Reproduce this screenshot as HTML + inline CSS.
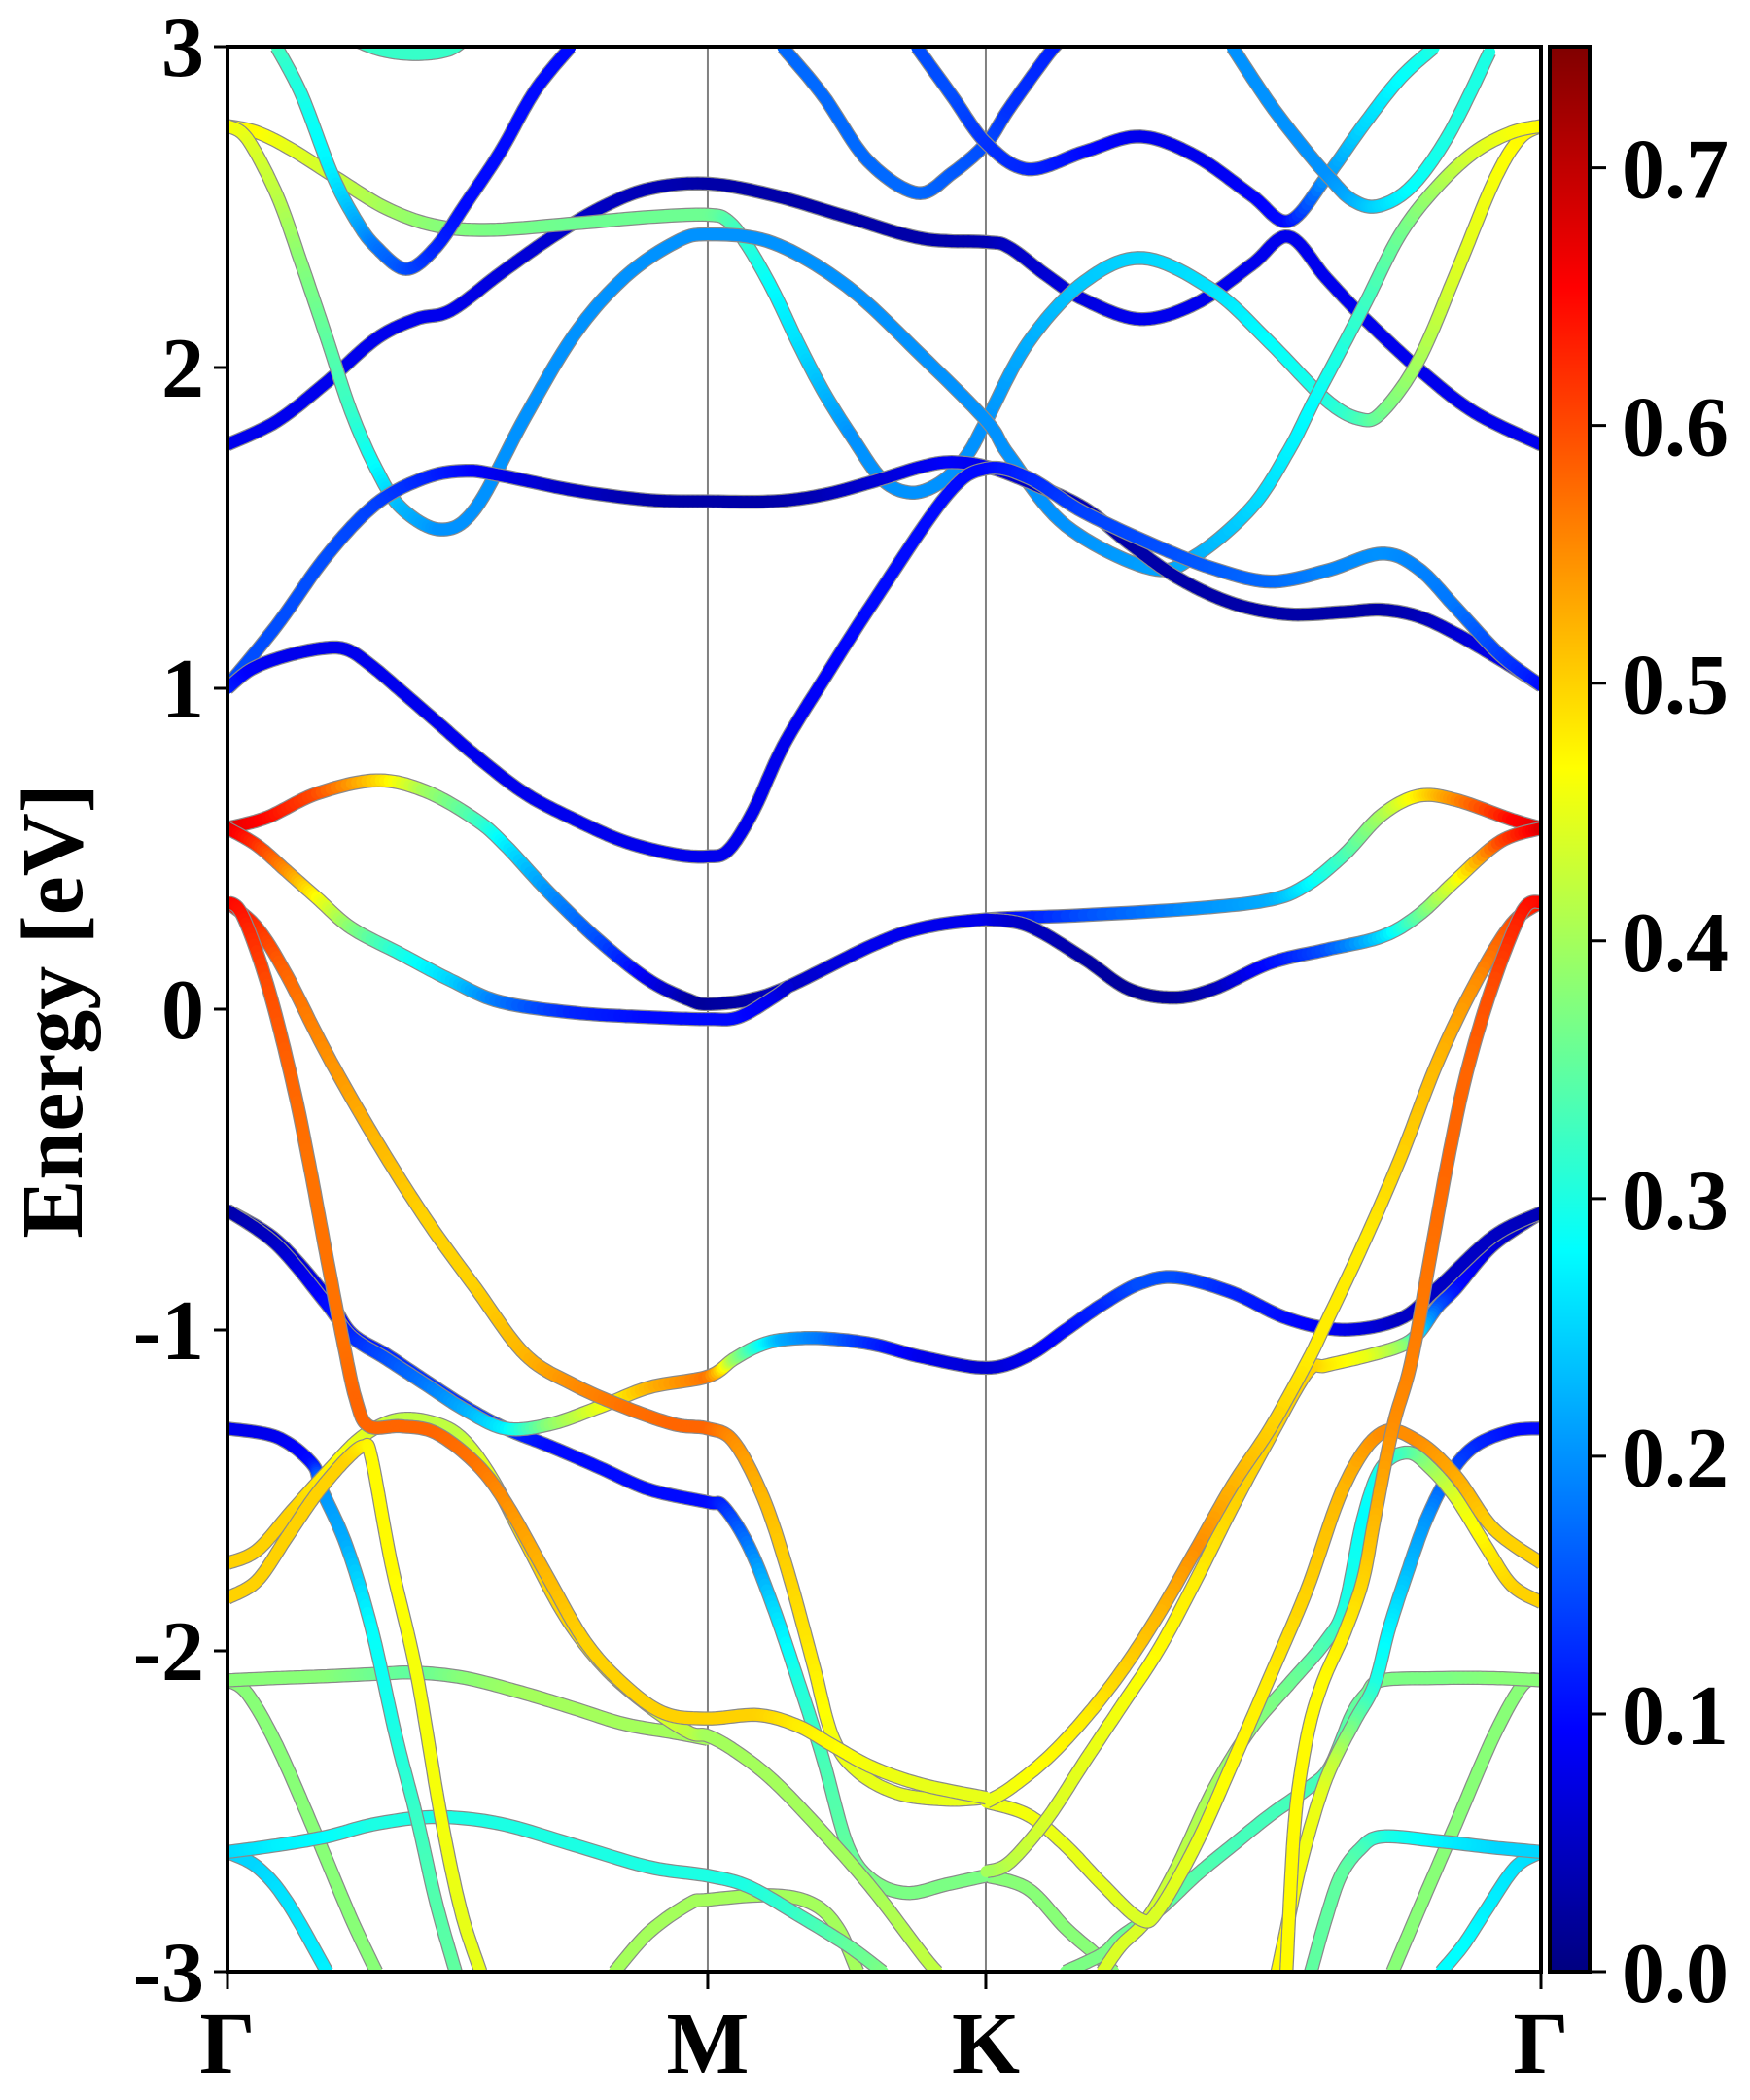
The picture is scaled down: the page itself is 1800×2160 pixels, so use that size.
<!DOCTYPE html>
<html><head><meta charset="utf-8">
<style>
html,body{margin:0;padding:0;background:#fff;}
svg{display:block;}
text{font-family:"Liberation Serif",serif;font-weight:bold;fill:#000;}
</style></head>
<body>
<svg id="chart" width="1800" height="2160" viewBox="0 0 1800 2160" xmlns="http://www.w3.org/2000/svg">
<defs>
<clipPath id="plotclip"><rect x="234" y="48" width="1351" height="1980"/></clipPath>
<linearGradient id="jetgrad" x1="0" y1="1" x2="0" y2="0"></linearGradient>
</defs>
<rect x="234" y="48" width="1351" height="1980" fill="#fff"/>
<g id="vlines"></g>
<g id="bands" clip-path="url(#plotclip)"></g>
<rect x="234" y="48" width="1351" height="1980" fill="none" stroke="#000" stroke-width="4"/>
<g id="axes"></g>
<text transform="translate(84,1040) rotate(-90)" text-anchor="middle" font-size="90">Energy [eV]</text>
<rect id="cbar" x="1594" y="48" width="41" height="1980" fill="url(#jetgrad)" stroke="#000" stroke-width="4"/>
</svg>
<script>
// ---- data ----
const kLabels = ["Γ","M","K","Γ"];
const kPoints = [0, 1, 1.579, 2.735];
const yTicks = [3,2,1,0,-1,-2,-3];
const yTickLabels = ["3","2","1","0","-1","-2","-3"];
const cbTicks = [0.0,0.1,0.2,0.3,0.4,0.5,0.6,0.7];
const cbTickLabels = ["0.0","0.1","0.2","0.3","0.4","0.5","0.6","0.7"];
const cbMax = 0.747;

const bandC1k = [0,.103,.207,.31,.393,.465,.568,.671,.775,.878,1.0,1.136,1.291,1.446,1.581,1.628,1.706,1.783,1.9,2.016,2.132,2.209,2.287,2.364,2.48,2.597,2.736];
const bandC1E = [1.76,1.833,1.955,2.09,2.151,2.178,2.293,2.402,2.496,2.557,2.573,2.537,2.469,2.402,2.391,2.374,2.287,2.212,2.151,2.199,2.32,2.408,2.28,2.158,1.996,1.86,1.759];
const bandC1w = [.08,.08,.08,.08,.08,.08,.07,.06,.05,.04,.03,.03,.03,.03,.04,.05,.06,.07,.08,.08,.08,.08,.08,.08,.08,.08,.08];

const bandC2k = [0,.062,.134,.227,.331,.434,.548,.723,.878,1.0,1.043,1.085,1.136,1.188,1.24,1.302,1.364,1.426,1.488,1.539,1.58,1.667,1.783,1.907,2.054,2.171,2.287,2.357,2.403,2.48,2.558,2.636,2.69,2.736];
const bandC2E = [2.753,2.733,2.679,2.591,2.496,2.442,2.429,2.449,2.469,2.476,2.456,2.375,2.24,2.077,1.928,1.78,1.65,1.61,1.645,1.725,1.834,2.077,2.266,2.341,2.239,2.077,1.9,1.84,1.86,2.022,2.293,2.577,2.713,2.753];
const bandC2w = [.47,.47,.45,.43,.4,.38,.37,.36,.36,.36,.34,.31,.28,.26,.23,.2,.2,.2,.2,.2,.2,.22,.24,.25,.26,.28,.3,.33,.36,.4,.44,.46,.47,.47];

const bandC3k = [0,.041,.103,.155,.207,.258,.31,.362,.444,.517,.62,.723,.826,.93,1.0,1.136,1.291,1.446,1.58,1.628,1.745,1.923,2.016,2.132,2.209,2.264,2.364,2.442,2.519,2.597,2.674,2.736];
const bandC3E = [2.753,2.713,2.537,2.32,2.09,1.86,1.684,1.562,1.495,1.562,1.846,2.104,2.28,2.388,2.415,2.388,2.252,2.036,1.834,1.725,1.508,1.373,1.414,1.563,1.739,1.901,2.185,2.415,2.564,2.672,2.733,2.753];
const bandC3w = [.47,.45,.42,.38,.35,.32,.28,.23,.2,.2,.2,.2,.2,.2,.2,.2,.2,.2,.2,.2,.2,.21,.22,.25,.27,.28,.32,.36,.4,.44,.46,.47];

const bandC4k = [.103,.155,.217,.269,.31,.372,.434,.496,.568,.64,.713];
const bandC4E = [2.997,2.848,2.605,2.456,2.375,2.307,2.375,2.51,2.672,2.862,2.997];
const bandC4w = [.33,.3,.27,.22,.18,.15,.12,.1,.1,.1,.1];

const bandC5k = [.25,.32,.392,.46,.5];
const bandC5E = [3.03,2.99,2.977,2.99,3.03];
const bandC5w = [.32,.32,.32,.32,.32];

const bandT1k = [1.157,1.24,1.333,1.436,1.508,1.58,1.628,1.706,1.74];
const bandT1E = [2.997,2.848,2.645,2.544,2.605,2.699,2.808,2.97,3.03];
const bandT1w = [.17,.17,.17,.17,.16,.15,.13,.12,.11];

const bandT2k = [1.436,1.508,1.58,1.667,1.783,1.9,2.016,2.132,2.209,2.287,2.364,2.442,2.512];
const bandT2E = [2.997,2.848,2.699,2.618,2.672,2.72,2.659,2.537,2.456,2.591,2.753,2.902,2.997];
const bandT2w = [.15,.15,.13,.12,.1,.08,.08,.09,.1,.2,.25,.28,.3];

const bandT3k = [2.093,2.171,2.248,2.295,2.341,2.395,2.465,2.543,2.628];
const bandT3E = [2.997,2.821,2.672,2.591,2.523,2.503,2.564,2.726,2.983];
const bandT3w = [.2,.2,.2,.2,.22,.25,.28,.3,.3];

const bandUpk = [0,.103,.207,.31,.413,.496,.568,.723,.878,1.0,1.136,1.24,1.343,1.446,1.508,1.58,1.667,1.783,1.876,1.977,2.093,2.209,2.326,2.403,2.48,2.558,2.651,2.736];
const bandUpE = [1.008,1.197,1.414,1.576,1.657,1.678,1.664,1.617,1.587,1.583,1.583,1.603,1.644,1.691,1.705,1.691,1.644,1.563,1.454,1.346,1.265,1.231,1.238,1.245,1.224,1.17,1.089,1.008];
const bandUpw = [.15,.15,.15,.14,.12,.1,.08,.05,.03,.03,.03,.04,.06,.08,.09,.08,.05,.04,.03,.03,.03,.03,.03,.03,.04,.06,.08,.06];

const bandD1k = [0,.05,.12,.2,.25,.3,.363,.44,.517,.62,.723,.826,.93,1.0,1.043,1.095,1.157,1.24,1.343,1.498,1.58,1.667,1.783,1.938,2.054,2.171,2.287,2.403,2.48,2.558,2.651,2.736];
const bandD1E = [1.0,1.06,1.1,1.125,1.12,1.07,.99,.89,.79,.672,.591,.523,.483,.476,.496,.618,.82,1.024,1.265,1.603,1.685,1.657,1.549,1.441,1.373,1.333,1.366,1.42,1.373,1.251,1.103,1.008];
const bandD1w = [.12,.09,.08,.08,.08,.08,.08,.08,.08,.08,.08,.08,.08,.08,.08,.08,.08,.09,.1,.1,.1,.12,.14,.15,.16,.17,.19,.2,.19,.18,.14,.1];

const bandF1k = [0,.083,.186,.31,.413,.517,.579,.671,.775,.878,.961,1.0,1.085,1.167,1.343,1.446,1.58,1.783,2.016,2.171,2.248,2.326,2.403,2.48,2.558,2.674,2.736];
const bandF1E = [.564,.598,.672,.713,.679,.591,.51,.361,.212,.09,.029,.016,.029,.07,.199,.253,.28,.293,.314,.341,.388,.483,.605,.665,.652,.591,.564];
const bandF1w = [.68,.65,.6,.5,.4,.33,.27,.2,.15,.08,.03,.02,.03,.05,.08,.08,.08,.15,.2,.22,.27,.33,.4,.48,.55,.65,.68];

const bandF2k = [0,.062,.124,.186,.258,.362,.465,.568,.723,.878,1.0,1.064,1.136,1.167];
const bandF2E = [.564,.51,.429,.347,.253,.171,.09,.023,-.011,-.025,-.031,-.025,.036,.07];
const bandF2w = [.68,.62,.55,.47,.38,.3,.25,.18,.12,.1,.1,.1,.08,.06];

const bandF3k = [1.58,1.667,1.783,1.876,1.969,2.054,2.171,2.287,2.403,2.48,2.558,2.651,2.736];
const bandF3E = [.28,.26,.158,.063,.036,.063,.144,.185,.226,.293,.402,.523,.564];
const bandF3w = [.08,.05,.03,.02,.02,.04,.1,.15,.25,.35,.45,.6,.68];

const bandGsk = [0,.031,.083,.134,.17,.205,.24,.268,.295,.362,.434,.517,.579,.661,.744,.826,.909,1.0,1.105,1.188,1.26,1.343,1.446,1.58];
const bandGsE = [.334,.293,.077,-.221,-.48,-.76,-1.03,-1.22,-1.3,-1.3,-1.321,-1.416,-1.537,-1.754,-1.97,-2.106,-2.194,-2.211,-2.2,-2.234,-2.295,-2.363,-2.417,-2.458];
const bandGsw = [.66,.64,.6,.58,.57,.57,.57,.58,.58,.58,.58,.57,.55,.52,.5,.5,.5,.5,.5,.48,.47,.46,.45,.45];

const bandGlk = [0,.062,.124,.207,.31,.413,.517,.62,.723,.826,.93,1.0,1.054,1.116,1.167,1.219,1.26,1.312,1.395,1.498,1.58];
const bandGlE = [.334,.253,.104,-.14,-.41,-.654,-.87,-1.077,-1.172,-1.24,-1.294,-1.307,-1.348,-1.524,-1.754,-2.038,-2.268,-2.376,-2.444,-2.464,-2.458];
const bandGlw = [.66,.62,.58,.55,.52,.5,.5,.52,.55,.57,.58,.58,.55,.52,.5,.48,.46,.45,.45,.45,.45];

const bandGyk = [2.736,2.674,2.597,2.519,2.442,2.364,2.287,2.248,2.171,2.093,2.016,1.938,1.861,1.783,1.706,1.628,1.58];
const bandGyE = [.334,.266,.077,-.167,-.465,-.735,-.979,-1.1,-1.307,-1.483,-1.686,-1.889,-2.065,-2.214,-2.336,-2.43,-2.471];
const bandGyw = [.66,.6,.55,.52,.5,.48,.48,.48,.5,.52,.55,.52,.5,.48,.47,.46,.45];

const bandGok = [2.736,2.697,2.635,2.581,2.542,2.504,2.465,2.426,2.388,2.364,2.326,2.28,2.248,2.222,2.205];
const bandGoE = [.334,.307,.077,-.194,-.465,-.776,-1.098,-1.307,-1.592,-1.781,-1.943,-2.1,-2.268,-2.539,-3.0];
const bandGow = [.66,.64,.6,.58,.58,.57,.56,.55,.52,.5,.48,.47,.47,.47,.47];

const bandL1k = [0,.103,.207,.258,.331,.413,.496,.579,.671,.775,.878,1.0,1.033,1.085,1.136,1.188,1.24,1.291,1.343,1.415,1.498,1.58];
const bandL1E = [-.627,-.722,-.897,-1.01,-1.077,-1.159,-1.24,-1.307,-1.362,-1.429,-1.497,-1.537,-1.551,-1.673,-1.862,-2.092,-2.336,-2.607,-2.715,-2.755,-2.728,-2.701];
const bandL1w = [.03,.05,.08,.1,.12,.13,.13,.13,.1,.1,.1,.1,.12,.18,.25,.3,.33,.35,.37,.37,.37,.37];

const bandL2k = [0,.103,.207,.258,.331,.413,.496,.579,.671,.775,.878,1.0,1.054,1.105,1.157,1.24,1.343,1.446,1.58,1.667,1.745,1.822,1.9,1.977,2.093,2.209,2.326,2.442,2.519,2.636,2.736];
const bandL2E = [-.627,-.735,-.92,-1.02,-1.09,-1.17,-1.25,-1.307,-1.294,-1.24,-1.179,-1.145,-1.091,-1.05,-1.03,-1.026,-1.044,-1.084,-1.118,-1.08,-1.0,-.92,-.855,-.836,-.884,-.965,-.999,-.965,-.87,-.708,-.634];
const bandL2w = [.03,.05,.1,.12,.15,.18,.22,.27,.38,.45,.52,.57,.4,.3,.22,.18,.12,.08,.06,.08,.1,.12,.15,.15,.12,.1,.08,.05,.05,.05,.04];

const bandL3k = [2.736,2.636,2.558,2.519,2.48,2.442,2.364,2.287,2.248,2.171,2.093,2.016,1.938,1.861,1.783,1.706,1.628,1.58];
const bandL3E = [-.634,-.735,-.87,-.929,-1.01,-1.05,-1.084,-1.111,-1.132,-1.334,-1.551,-1.781,-1.998,-2.173,-2.349,-2.525,-2.66,-2.688];
const bandL3w = [.04,.06,.1,.15,.25,.38,.45,.48,.5,.5,.5,.48,.47,.46,.45,.44,.42,.4];

const bandY1k = [0,.062,.134,.207,.279,.351,.424,.486,.548,.62,.702,.785,.878,.961,1.0,1.054,1.136,1.24,1.343,1.446,1.477];
const bandY1E = [-1.727,-1.686,-1.564,-1.443,-1.334,-1.28,-1.287,-1.334,-1.456,-1.659,-1.889,-2.052,-2.173,-2.254,-2.265,-2.309,-2.404,-2.566,-2.742,-2.945,-3.0];
const bandY1w = [.5,.5,.5,.48,.45,.42,.42,.42,.45,.5,.5,.48,.45,.42,.4,.4,.4,.4,.4,.42,.42];

const bandY2k = [0,.062,.124,.186,.248,.284,.3,.341,.393,.444,.486,.527];
const bandY2E = [-1.835,-1.781,-1.645,-1.51,-1.402,-1.362,-1.4,-1.727,-2.065,-2.512,-2.81,-3.0];
const bandY2w = [.5,.5,.5,.5,.5,.48,.47,.47,.46,.46,.45,.45];

const bandBfk = [0,.103,.176,.196,.248,.3,.351,.393,.434,.475];
const bandBfE = [-1.307,-1.334,-1.416,-1.497,-1.673,-1.93,-2.268,-2.512,-2.782,-3.0];
const bandBfw = [.08,.08,.1,.2,.22,.28,.3,.32,.34,.35];

const bandGfk = [0,.103,.207,.31,.393,.496,.62,.723,.826,.93,1.0];
const bandGfE = [-2.092,-2.085,-2.079,-2.072,-2.068,-2.085,-2.133,-2.18,-2.228,-2.255,-2.275];
const bandGfw = [.38,.38,.38,.36,.35,.38,.4,.4,.4,.4,.4];

const bandGdk = [0,.041,.103,.186,.258,.31];
const bandGdE = [-2.092,-2.133,-2.295,-2.579,-2.836,-3.0];
const bandGdw = [.38,.38,.38,.38,.38,.38];

const bandCyk = [0,.103,.207,.31,.434,.568,.723,.878,1.0,1.085,1.188,1.291,1.364];
const bandCyE = [-2.627,-2.606,-2.579,-2.539,-2.518,-2.539,-2.606,-2.674,-2.701,-2.735,-2.823,-2.918,-3.0];
const bandCyw = [.25,.27,.28,.3,.3,.3,.3,.3,.3,.3,.32,.35,.37];

const bandCdk = [0,.062,.124,.207];
const bandCdE = [-2.627,-2.674,-2.782,-3.0];
const bandCdw = [.25,.25,.26,.27];

const bandGmk = [.806,.878,.961,1.0,1.136,1.219,1.271,1.312];
const bandGmE = [-3.0,-2.877,-2.789,-2.776,-2.762,-2.789,-2.864,-3.0];
const bandGmw = [.4,.4,.4,.4,.4,.4,.4,.4];

const bandR1k = [1.58,1.667,1.745,1.822,1.9,1.938,2.016,2.093,2.171,2.248,2.326,2.403,2.48,2.558,2.636,2.736];
const bandR1E = [-2.471,-2.512,-2.607,-2.728,-2.836,-2.81,-2.606,-2.349,-2.079,-1.808,-1.483,-1.321,-1.348,-1.456,-1.619,-1.727];
const bandR1w = [.45,.46,.45,.45,.44,.44,.45,.47,.48,.5,.52,.55,.55,.53,.5,.5];

const bandR2k = [2.736,2.674,2.62,2.558,2.504,2.457,2.403,2.364,2.326,2.287,2.209,2.132,2.054,1.977,1.915,1.861,1.822];
const bandR2E = [-1.849,-1.795,-1.673,-1.524,-1.429,-1.382,-1.429,-1.591,-1.862,-1.97,-2.106,-2.241,-2.43,-2.674,-2.836,-2.918,-3.0];
const bandR2w = [.5,.5,.48,.45,.4,.35,.3,.28,.3,.33,.36,.38,.4,.42,.44,.44,.44];

const bandR3k = [2.736,2.674,2.597,2.542,2.496,2.457,2.419,2.388,2.349,2.302,2.271,2.233,2.202,2.186];
const bandR3E = [-1.307,-1.314,-1.362,-1.456,-1.592,-1.754,-1.93,-2.106,-2.214,-2.349,-2.471,-2.674,-2.89,-3.0];
const bandR3w = [.1,.1,.12,.15,.2,.23,.27,.3,.35,.42,.45,.46,.47,.47];

const bandR4k = [2.736,2.636,2.519,2.403,2.372,2.341,2.295,2.248,2.171,2.093,2.016,1.938,1.861,1.822,1.745];
const bandR4E = [-2.092,-2.085,-2.085,-2.092,-2.133,-2.2,-2.363,-2.43,-2.512,-2.606,-2.701,-2.81,-2.891,-2.945,-3.0];
const bandR4w = [.38,.38,.37,.37,.36,.35,.33,.33,.33,.33,.34,.35,.36,.37,.37];

const bandR5k = [2.736,2.697,2.636,2.558,2.48,2.426];
const bandR5E = [-2.092,-2.106,-2.268,-2.539,-2.81,-3.0];
const bandR5w = [.38,.38,.38,.38,.38,.38];

const bandR6k = [2.736,2.636,2.519,2.403,2.357,2.318,2.287,2.256];
const bandR6E = [-2.627,-2.613,-2.593,-2.579,-2.62,-2.701,-2.836,-3.0];
const bandR6w = [.25,.25,.27,.3,.33,.35,.35,.35];

const bandR7k = [2.736,2.682,2.62,2.573,2.527];
const bandR7E = [-2.627,-2.674,-2.81,-2.918,-3.0];
const bandR7w = [.25,.26,.27,.28,.28];

const bandR8k = [1.58,1.667,1.745,1.807,1.845];
const bandR8E = [-2.701,-2.742,-2.864,-2.945,-3.0];
const bandR8w = [.38,.38,.38,.38,.38];

const bands = [
 ["band-c1",bandC1k,bandC1E,bandC1w],["band-c2",bandC2k,bandC2E,bandC2w],["band-c3",bandC3k,bandC3E,bandC3w],
 ["band-c4",bandC4k,bandC4E,bandC4w],["band-c5",bandC5k,bandC5E,bandC5w],["band-t1",bandT1k,bandT1E,bandT1w],
 ["band-t2",bandT2k,bandT2E,bandT2w],["band-t3",bandT3k,bandT3E,bandT3w],["band-up",bandUpk,bandUpE,bandUpw],
 ["band-d1",bandD1k,bandD1E,bandD1w],["band-f1",bandF1k,bandF1E,bandF1w],["band-f2",bandF2k,bandF2E,bandF2w],
 ["band-f3",bandF3k,bandF3E,bandF3w],["band-gm",bandGmk,bandGmE,bandGmw],["band-gd",bandGdk,bandGdE,bandGdw],
 ["band-cd",bandCdk,bandCdE,bandCdw],["band-r5",bandR5k,bandR5E,bandR5w],["band-r7",bandR7k,bandR7E,bandR7w],
 ["band-r8",bandR8k,bandR8E,bandR8w],["band-r6",bandR6k,bandR6E,bandR6w],["band-cy",bandCyk,bandCyE,bandCyw],
 ["band-r4",bandR4k,bandR4E,bandR4w],["band-gf",bandGfk,bandGfE,bandGfw],["band-bf",bandBfk,bandBfE,bandBfw],
 ["band-l1",bandL1k,bandL1E,bandL1w],["band-r3",bandR3k,bandR3E,bandR3w],["band-y1",bandY1k,bandY1E,bandY1w],
 ["band-y2",bandY2k,bandY2E,bandY2w],["band-r2",bandR2k,bandR2E,bandR2w],["band-r1",bandR1k,bandR1E,bandR1w],
 ["band-l3",bandL3k,bandL3E,bandL3w],["band-l2",bandL2k,bandL2E,bandL2w],["band-gl",bandGlk,bandGlE,bandGlw],
 ["band-gy",bandGyk,bandGyE,bandGyw],["band-go",bandGok,bandGoE,bandGow],["band-gs",bandGsk,bandGsE,bandGsw]
];

// ---- axes ----
const NS="http://www.w3.org/2000/svg";
const X0=234,X1=1585,Y0=48,Y1=2028,KMAX=2.735,EMIN=-3,EMAX=3;
function xs(k){return X0+(k/KMAX)*(X1-X0);}
function ys(e){return Y0+(EMAX-e)/(EMAX-EMIN)*(Y1-Y0);}
function cy(v){return Y1-(v/cbMax)*(Y1-Y0);}
function jet(v){
  let t=Math.max(0,Math.min(1,v/cbMax));
  function f(x){return Math.max(0,Math.min(1,x));}
  const r=f(Math.min(4*t-1.5,-4*t+4.5)),g=f(Math.min(4*t-0.5,-4*t+3.5)),b=f(Math.min(4*t+0.5,-4*t+2.5));
  return "rgb("+Math.round(r*255)+","+Math.round(g*255)+","+Math.round(b*255)+")";
}
const svg=document.getElementById('chart');
function mk(tag,attrs,parent){const e=document.createElementNS(NS,tag);for(const a in attrs)e.setAttribute(a,attrs[a]);parent.appendChild(e);return e;}

const grad=document.getElementById('jetgrad');
for(let i=0;i<=40;i++){mk('stop',{offset:(i/40),'stop-color':jet(i/40*cbMax)},grad);}

const vg=document.getElementById('vlines');
for(let i=1;i<kPoints.length-1;i++){
  const l=mk('line',{x1:xs(kPoints[i]),x2:xs(kPoints[i]),y1:Y0,y2:Y1,stroke:'#808080','stroke-width':2},vg);
  
  
}

function interp(ks,es,ws){
  const pts=[];const n=ks.length;
  for(let i=0;i<n-1;i++){
    const p0=i>0?i-1:i,p3=i+2<n?i+2:i+1;
    const X=[xs(ks[p0]),xs(ks[i]),xs(ks[i+1]),xs(ks[p3])];
    const Y=[ys(es[p0]),ys(es[i]),ys(es[i+1]),ys(es[p3])];
    const steps=12;
    for(let s=0;s<steps;s++){
      const t=s/steps,t2=t*t,t3=t2*t;
      const cr=(a)=>0.5*((2*a[1])+(-a[0]+a[2])*t+(2*a[0]-5*a[1]+4*a[2]-a[3])*t2+(-a[0]+3*a[1]-3*a[2]+a[3])*t3);
      pts.push([cr(X),cr(Y),ws[i]+(ws[i+1]-ws[i])*t]);
    }
  }
  pts.push([xs(ks[n-1]),ys(es[n-1]),ws[n-1]]);
  return pts;
}
const bg=document.getElementById('bands');
bands.forEach(b=>{
  const g=mk('g',{},bg);
  
  
  const pts=interp(b[1],b[2],b[3]);
  const d=pts.map((p,i)=>(i?'L':'M')+p[0].toFixed(1)+','+p[1].toFixed(1)).join('');
  mk('path',{d:d,fill:'none',stroke:'#8a8a8a','stroke-width':14.5,'stroke-linejoin':'round','stroke-linecap':'butt'},g);
  for(let i=0;i<pts.length-1;i++){
    mk('line',{x1:pts[i][0].toFixed(1),y1:pts[i][1].toFixed(1),x2:pts[i+1][0].toFixed(1),y2:pts[i+1][1].toFixed(1),stroke:jet((pts[i][2]+pts[i+1][2])/2),'stroke-width':12,'stroke-linecap':'round'},g);
  }
});

const ax=document.getElementById('axes');
yTicks.forEach((v,i)=>{
  const y=ys(v);
  const tk=mk('line',{x1:X0-14,x2:X0,y1:y,y2:y,stroke:'#000','stroke-width':3},ax);
  
  
  const t=mk('text',{x:X0-24,y:y+30,'text-anchor':'end','font-size':88},ax);
  t.textContent=yTickLabels[i];
  
  
});
kPoints.forEach((k,i)=>{
  const x=xs(k);
  const tk=mk('line',{x1:x,x2:x,y1:Y1,y2:Y1+18,stroke:'#000','stroke-width':3},ax);
  
  
  const t=mk('text',{x:x,y:2132,'text-anchor':'middle','font-size':90},ax);
  t.textContent=kLabels[i];
  
  
});
cbTicks.forEach((v,i)=>{
  const y=cy(v);
  const tk=mk('line',{x1:1635,x2:1652,y1:y,y2:y,stroke:'#000','stroke-width':3},svg);
  
  
  const t=mk('text',{x:1668,y:y+31,'text-anchor':'start','font-size':88},svg);
  t.textContent=cbTickLabels[i];
  
  
});
</script>
</body></html>
